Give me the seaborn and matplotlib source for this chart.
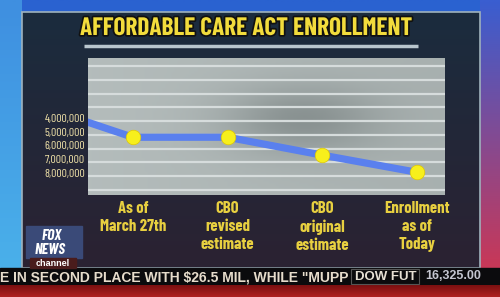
import numpy as np
import pandas as pd
import matplotlib
matplotlib.use("Agg")
import matplotlib.pyplot as plt
import matplotlib.patheffects as pe
from matplotlib.patches import Rectangle
from matplotlib.colors import LinearSegmentedColormap
from matplotlib.ticker import MultipleLocator, FixedLocator
import seaborn as sns

# ---- data ----
categories = ["As of\nMarch 27th", "CBO\nrevised\nestimate", "CBO\noriginal\nestimate", "Enrollment\nas of\nToday"]
enrollment = [5_400_000, 5_400_000, 6_700_000, 7_950_000]
lead_in_value = 4_250_000          # line enters from the left edge
ytick_values = [4_000_000, 5_000_000, 6_000_000, 7_000_000, 8_000_000]
ytick_labels = ["4,000,000", "5,000,000", "6,000,000", "7,000,000", "8,000,000"]
title = "AFFORDABLE CARE ACT ENROLLMENT"
ticker_text = 'E IN SECOND PLACE WITH $26.5 MIL, WHILE "MUPP'
dow_label = "DOW FUT"
dow_value = "16,325.00"

sns.set_theme(style="white")
COND = ["Barlow Condensed", "Asap Condensed", "DejaVu Sans"]
plt.rcParams["font.family"] = ["Liberation Sans", "DejaVu Sans"]

W, H = 500, 297
fig = plt.figure(figsize=(W / 100, H / 100), dpi=100)

# ---- background in pixel coordinates ----
bg = fig.add_axes([0, 0, 1, 1])
bg.set_xlim(0, W)
bg.set_ylim(H, 0)
bg.axis("off")

def vgrad(ax, x0, x1, y0, y1, c0, c1, z=0):
    c0 = np.array(matplotlib.colors.to_rgb(c0))
    c1 = np.array(matplotlib.colors.to_rgb(c1))
    t = np.linspace(0, 1, 64)[:, None]
    img = (c0 * (1 - t) + c1 * t)[:, None, :]
    ax.imshow(img, extent=(x0, x1, y1, y0), aspect="auto", zorder=z, interpolation="bilinear")

vgrad(bg, 0, W, 0, H, "#2a62d0", "#2f7ad8", z=0)
vgrad(bg, 0, 22, 0, 268, "#3f8fe0", "#4ab0ea", z=1)
vgrad(bg, 480, W, 0, 268, "#3a5ed0", "#c83858", z=1)
vgrad(bg, 22, 480, 12, 268, "#1b2c3e", "#2b2232", z=2)
bg.add_patch(Rectangle((22, 12), 458, 256, fill=False, ec="#9fb2bc", lw=1.2, zorder=3))
bg.add_patch(Rectangle((0, 268), W, 17, color="#0b0b0d", zorder=4))
vgrad(bg, 0, W, 285, H, "#7a1010", "#b02020", z=4)

# title + underline
bg.text(80, 29, title, fontsize=18.2, fontweight="bold", family=COND, color="#f2dc3c",
        ha="left", va="center", zorder=6,
        path_effects=[pe.withStroke(linewidth=2.5, foreground="#111111")])
bg.plot([84, 418], [46, 46], color="#b9c6ce", lw=2.5, zorder=6, solid_capstyle="butt")

# ticker
bg.text(0, 277, ticker_text, fontsize=10, fontweight="bold", color="#e6dccb",
        ha="left", va="center", zorder=6)
bg.add_patch(Rectangle((351, 269), 68, 15, fill=False, ec="#555555", lw=0.8, zorder=5))
bg.text(355, 277, dow_label, fontsize=9.5, fontweight="bold", color="#e6e0d4",
        ha="left", va="center", zorder=6)
bg.text(425, 276, dow_value, fontsize=9, fontweight="bold", color="#c4c6d0",
        ha="left", va="center", zorder=6)

# fox logo
bg.add_patch(Rectangle((26, 226), 56, 32, color="#3a4a78", zorder=5))
bg.text(52, 236, "FOX", fontsize=11, fontweight="bold", style="italic", color="white",
        ha="center", va="center", family=COND, zorder=6)
bg.text(50, 250, "NEWS", fontsize=11, fontweight="bold", style="italic", color="white",
        ha="center", va="center", family=COND, zorder=6)
bg.add_patch(Rectangle((30, 258), 46, 10, color="#4a1c1c", zorder=5))
bg.text(53, 263, "channel", fontsize=6.5, fontweight="bold", color="white",
        ha="center", va="center", zorder=6)

# ---- chart axes ----
x0, x1, y_top, y_bot = 88, 445, 58, 195
ax = fig.add_axes([x0 / W, 1 - y_bot / H, (x1 - x0) / W, (y_bot - y_top) / H])

df = pd.DataFrame({"pos": [-0.5, 0, 1, 2, 3],
                   "value": [lead_in_value] + enrollment})
pts = pd.DataFrame({"pos": [0, 1, 2, 3], "value": enrollment})

ax.set_facecolor("#9aa3a4")
grey = LinearSegmentedColormap.from_list("g", ["#5f6868", "#c4cccb"])
yy, xx = np.mgrid[0:1:60j, 0:1:120j]
shade = 0.72 - 0.35 * np.exp(-(((xx - 0.6) / 0.22) ** 2 + ((yy - 0.45) / 0.25) ** 2)) + 0.12 * (1 - xx)
ax.imshow(shade, cmap=grey, vmin=0, vmax=1, extent=(0, 1, 0, 1), transform=ax.transAxes,
          aspect="auto", zorder=0)

sns.lineplot(data=df, x="pos", y="value", ax=ax, color="#5a80ee", lw=5.2, zorder=3,
             solid_capstyle="butt")
sns.scatterplot(data=pts, x="pos", y="value", ax=ax, color="#f7ef1c", s=110,
                edgecolor="#e0c800", linewidth=0.5, zorder=4)

ax.set_xlim(-45 / 95, 3 + 28 / 95)
ax.set_ylim(4e6 + 77 / 13.75 * 1e6, 4e6 - 60 / 13.75 * 1e6)
ax.yaxis.set_major_locator(FixedLocator(ytick_values))
ax.set_yticklabels(ytick_labels)
ax.yaxis.set_minor_locator(MultipleLocator(1e6, offset=0.22e6))
ax.grid(which="minor", axis="y", color="#d6dcdc", lw=1.6, zorder=1)
ax.grid(which="major", visible=False)
ax.set_xticks(range(len(categories)))
ax.set_xticklabels(categories)
ax.tick_params(axis="x", length=0, pad=4.5, labelsize=12, labelcolor="#e8d040")
ax.tick_params(axis="y", which="both", length=0, pad=2, labelsize=8.5, labelcolor="#f0e2a8")
for lab in ax.get_xticklabels():
    lab.set_fontweight("bold")
    lab.set_family(COND)
    lab.set_linespacing(1.25)
for lab in ax.get_yticklabels():
    lab.set_family(COND)
ax.set_xlabel("")
ax.set_ylabel("")
for s in ax.spines.values():
    s.set_visible(False)
ax.set_zorder(10)

fig.savefig("out.png", dpi=100)
